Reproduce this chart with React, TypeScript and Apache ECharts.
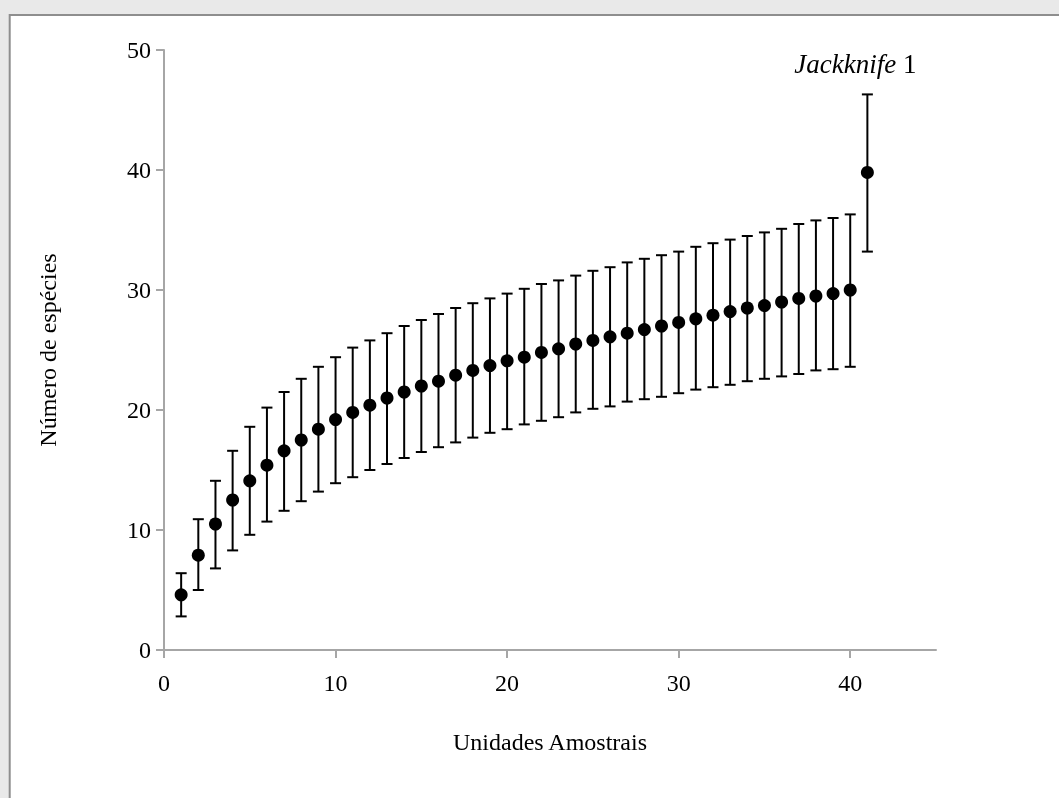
import React, { useEffect, useRef } from "react";
import * as echarts from "echarts";

const units: number[] = [1,2,3,4,5,6,7,8,9,10,11,12,13,14,15,16,17,18,19,20,21,22,23,24,25,26,27,28,29,30,31,32,33,34,35,36,37,38,39,40,41];
const species: number[] = [4.6,7.9,10.5,12.5,14.1,15.4,16.6,17.5,18.4,19.2,19.8,20.4,21.0,21.5,22.0,22.4,22.9,23.3,23.7,24.1,24.4,24.8,25.1,25.5,25.8,26.1,26.4,26.7,27.0,27.3,27.6,27.9,28.2,28.5,28.7,29.0,29.3,29.5,29.7,30.0,39.8];
const upper: number[] = [6.4,10.9,14.1,16.6,18.6,20.2,21.5,22.6,23.6,24.4,25.2,25.8,26.4,27.0,27.5,28.0,28.5,28.9,29.3,29.7,30.1,30.5,30.8,31.2,31.6,31.9,32.3,32.6,32.9,33.2,33.6,33.9,34.2,34.5,34.8,35.1,35.5,35.8,36.0,36.3,46.3];
const lower: number[] = [2.8,5.0,6.8,8.3,9.6,10.7,11.6,12.4,13.2,13.9,14.4,15.0,15.5,16.0,16.5,16.9,17.3,17.7,18.1,18.4,18.8,19.1,19.4,19.8,20.1,20.3,20.7,20.9,21.1,21.4,21.7,21.9,22.1,22.4,22.6,22.8,23.0,23.3,23.4,23.6,33.2];
const xTicks: number[] = [0, 10, 20, 30, 40];
const yTicks: number[] = [0, 10, 20, 30, 40, 50];
const jackknifeLabel = "{i|Jackknife} 1";
const xTitle = "Unidades Amostrais";
const yTitle = "Número de espécies";

const FONT = "'Liberation Serif', 'Times New Roman', serif";
const FS = 24;

export default function App() {
  const ref = useRef<HTMLDivElement>(null);
  useEffect(() => {
    if (!ref.current) return;
    const chart = echarts.init(ref.current, undefined, { renderer: "svg" });
    const errData = units.map((u, i) => [u, lower[i], upper[i]]);
    const lastIdx = units.length - 1;
    chart.setOption({
      animation: false,
      graphic: [
        { type: "rect", z: -10, silent: true, shape: { x: 0, y: 0, width: 1059, height: 798 }, style: { fill: "#e9e9e9" } },
        { type: "rect", z: -9, silent: true, shape: { x: 9.7, y: 15, width: 1200, height: 900 }, style: { fill: "#ffffff", stroke: "#8e8e8e", lineWidth: 2 } },
      ],
      grid: { left: 164, right: 123, top: 50, bottom: 148, containLabel: false },
      xAxis: {
        type: "value",
        min: 0,
        max: 45,
        interval: 10,
        name: xTitle,
        nameLocation: "middle",
        nameGap: 80,
        nameTextStyle: { fontFamily: FONT, fontSize: FS, color: "#000" },
        splitLine: { show: false },
        axisLine: { lineStyle: { color: "#a6a6a6", width: 2 } },
        axisTick: { show: true, length: 8, inside: false, lineStyle: { color: "#a6a6a6", width: 2 }, customValues: xTicks },
        axisLabel: { fontFamily: FONT, fontSize: FS, color: "#000", margin: 21, customValues: xTicks },
      },
      yAxis: {
        type: "value",
        min: 0,
        max: 50,
        interval: 10,
        name: yTitle,
        nameLocation: "middle",
        nameGap: 104,
        nameTextStyle: { fontFamily: FONT, fontSize: FS, color: "#000" },
        splitLine: { show: false },
        axisLine: { show: true, lineStyle: { color: "#a6a6a6", width: 2 } },
        axisTick: { show: true, length: 8, inside: false, lineStyle: { color: "#a6a6a6", width: 2 }, customValues: yTicks },
        axisLabel: { fontFamily: FONT, fontSize: FS, color: "#000", margin: 13, customValues: yTicks },
      },
      series: [
        {
          type: "custom",
          data: errData,
          z: 2,
          renderItem: (params: any, api: any) => {
            const x = api.value(0);
            const lo = api.coord([x, api.value(1)]);
            const hi = api.coord([x, api.value(2)]);
            const cap = 5.5;
            const style = { stroke: "#000", lineWidth: 2 };
            const children: any[] = [
              { type: "line", shape: { x1: lo[0], y1: lo[1], x2: hi[0], y2: hi[1] }, style },
              { type: "line", shape: { x1: lo[0] - cap, y1: lo[1], x2: lo[0] + cap, y2: lo[1] }, style },
              { type: "line", shape: { x1: hi[0] - cap, y1: hi[1], x2: hi[0] + cap, y2: hi[1] }, style },
            ];
            if (params.dataIndex === lastIdx) {
              children.push({
                type: "text",
                x: hi[0] - 12,
                y: hi[1] - 30,
                style: {
                  text: jackknifeLabel,
                  fill: "#000",
                  fontFamily: FONT,
                  fontSize: 27,
                  align: "center",
                  verticalAlign: "middle",
                  rich: { i: { fontStyle: "italic", fontFamily: FONT, fontSize: 27 } },
                },
              });
            }
            return { type: "group", children };
          },
        },
        {
          type: "scatter",
          data: units.map((u, i) => [u, species[i]]),
          symbol: "circle",
          symbolSize: 13,
          itemStyle: { color: "#000", opacity: 1 },
          z: 3,
        },
      ],
    });
    return () => chart.dispose();
  }, []);
  return <div ref={ref} style={{ position: "fixed", left: 0, top: 0, width: 1059, height: 798 }} />;
}
